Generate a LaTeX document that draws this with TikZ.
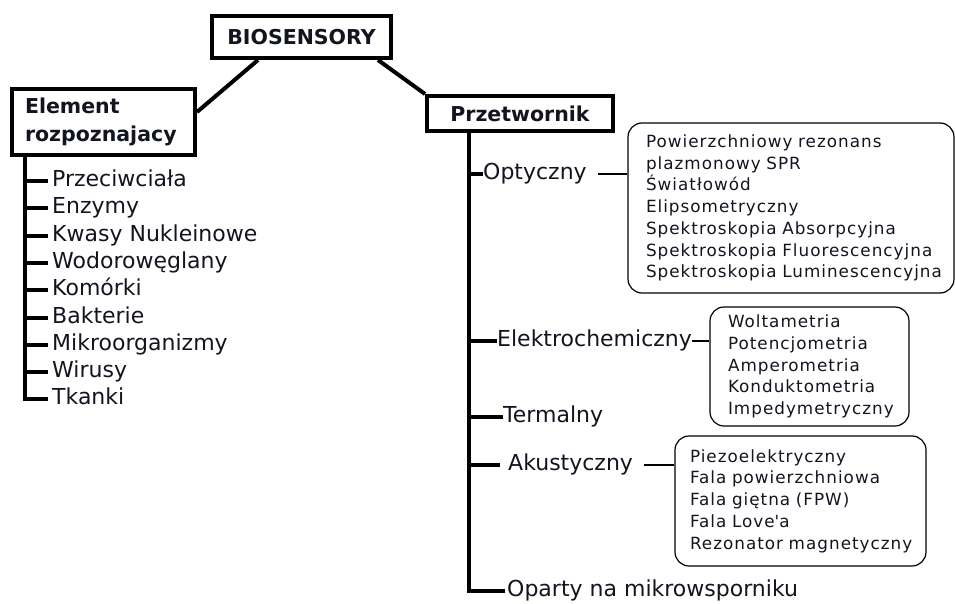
\documentclass[tikz,border=0pt]{standalone}
\usepackage{fontspec}
\setmainfont{DejaVu Sans}
\newfontfamily\boxfont[LetterSpace=6]{DejaVu Sans}
\definecolor{txt}{RGB}{18,20,32}
\begin{document}
\begin{tikzpicture}[x=1pt,y=-1pt,
  headbox/.style={draw, line width=4pt, inner sep=0pt, text=txt,
    font=\bfseries\fontsize{20.5}{28}\selectfont},
  conn/.style={line width=4pt},
  thinconn/.style={line width=1.2pt},
  lbl/.style={anchor=west, inner sep=0pt, text=txt,
    font=\fontsize{22}{26}\selectfont, text height=16.5pt, text depth=5.5pt},
  itembox/.style={draw, rounded corners=14pt, line width=1.2pt, align=left,
    text=txt, inner ysep=0pt, font=\boxfont\fontsize{16.8}{21.7}\selectfont}
]
\useasboundingbox (0,0) rectangle (955,604);

% headings
\node[headbox, minimum width=179pt, minimum height=42pt] (bio) at (301.5,37) {BIOSENSORY};
\node[headbox, minimum width=183pt, minimum height=66pt, inner xsep=13pt,
      text width=157pt, align=left] (elem) at (103.5,122) {Element\\rozpoznajacy};
\node[headbox, minimum width=186pt, minimum height=35pt] (prz) at (520,113.5) {Przetwornik};

\draw[conn] ([xshift=-43.5pt]bio.south) -- ([yshift=10pt]elem.east);
\draw[conn] ([xshift=76.5pt]bio.south) -- (prz.north west);

% left list
\coordinate (ltop) at ([xshift=15pt]elem.south west);
\foreach \t [count=\i from 0] in {Przeciwciała,Enzymy,Kwasy Nukleinowe,Wodorowęglany,Komórki,Bakterie,Mikroorganizmy,Wirusy,Tkanki}{
  \node[lbl] (l\i) at (52,181+27.3*\i) {\t};
}
\draw[conn] (ltop) |- ([xshift=-4pt]l8.west);
\foreach \i in {0,...,7}{
  \draw[conn] (ltop |- l\i.west) -- ([xshift=-4pt]l\i.west);
}

% right tree
\coordinate (rtop) at ([xshift=44pt]prz.south west);
\node[lbl] (opt) at (483,174) {Optyczny};
\node[lbl] (ele) at (497,341) {Elektrochemiczny};
\node[lbl] (ter) at (503,417) {Termalny};
\node[lbl] (aku) at (508,465) {Akustyczny};
\node[lbl] (opa) at (507,591) {Oparty na mikrowsporniku};

\draw[conn] (rtop) |- ([xshift=-2pt]opa.west);
\draw[conn] (rtop |- opt.west) -- (opt.west);
\draw[conn] (rtop |- ele.west) -- (ele.west);
\draw[conn] (rtop |- ter.west) -- (ter.west);
\draw[conn] (rtop |- aku.west) -- ([xshift=-8pt]aku.west);

% boxes
\node[itembox, minimum height=170pt, text width=290pt, inner xsep=18pt] (optbox) at (791,208)
 {\mbox{Powierzchniowy rezonans}\\\mbox{plazmonowy SPR}\\\mbox{Światłowód}\\\mbox{Elipsometryczny}\\\mbox{Spektroskopia Absorpcyjna}\\\mbox{Spektroskopia Fluorescencyjna}\\\mbox{Spektroskopia Luminescencyjna}};
\node[itembox, minimum height=119pt, text width=163pt, inner xsep=18pt] (elebox) at (809.5,366.5)
 {\mbox{Woltametria}\\\mbox{Potencjometria}\\\mbox{Amperometria}\\\mbox{Konduktometria}\\\mbox{Impedymetryczny}};
\node[itembox, minimum height=130pt, text width=221pt, inner xsep=15pt] (akubox) at (800.5,501)
 {\mbox{Piezoelektryczny}\\\mbox{Fala powierzchniowa}\\\mbox{Fala giętna (FPW)}\\\mbox{Fala Love\textquotesingle a}\\\mbox{Rezonator magnetyczny}};

\draw[thinconn] ([xshift=11pt]opt.east) -- (optbox.west |- opt.east);
\draw[thinconn] (ele.east) -- (elebox.west |- ele.east);
\draw[thinconn] ([xshift=11pt]aku.east) -- (akubox.west |- aku.east);
\end{tikzpicture}
\end{document}
